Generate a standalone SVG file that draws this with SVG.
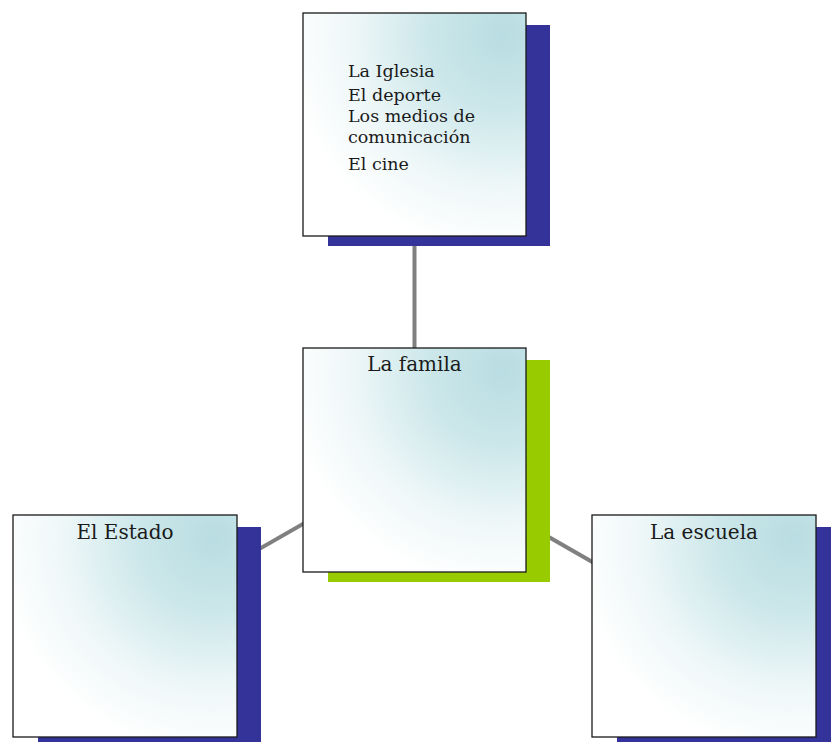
<svg xmlns="http://www.w3.org/2000/svg" width="831" height="742" viewBox="0 0 831 742">
  <style>
    .card { stroke: #1a1a1a; stroke-width: 1.3; fill: url(#cardFill); }
    .shadow-blue { fill: #333399; }
    .shadow-green { fill: #99cc00; }
    .link { stroke: #808080; stroke-width: 4; fill: none; }
    .label { font-family: "DejaVu Serif", "Liberation Serif", serif; fill: #1a1a1a; }
    .list { font-size: 17.5px; }
    .title { font-size: 20px; text-anchor: middle; }
  </style>
  <defs>
    <radialGradient id="cardFill" cx="0.88" cy="0.12" r="0.95" fx="0.9" fy="0.1">
      <stop offset="0" stop-color="#b9dde2"/>
      <stop offset="0.35" stop-color="#cce7ea"/>
      <stop offset="0.7" stop-color="#eef7f8"/>
      <stop offset="1" stop-color="#ffffff"/>
    </radialGradient>
  </defs>
  <rect width="831" height="742" fill="#ffffff"/>

  <!-- connectors between the centres of the cards -->
  <g id="connectors">
    <line class="link" x1="414.5" y1="124.5" x2="414.5" y2="460"/>
    <line class="link" x1="414.5" y1="460" x2="125" y2="626"/>
    <line class="link" x1="414.5" y1="460" x2="704" y2="626"/>
  </g>

  <g id="node-otros">
    <rect class="shadow-blue" x="328" y="25" width="222" height="221"/>
    <rect class="card" x="303" y="13" width="223" height="223"/>
    <text class="label list" x="348" y="77">La Iglesia</text>
    <text class="label list" x="348" y="101">El deporte</text>
    <text class="label list" x="348" y="122">Los medios de</text>
    <text class="label list" x="348" y="143">comunicación</text>
    <text class="label list" x="348" y="170">El cine</text>
  </g>

  <g id="node-familia">
    <rect class="shadow-green" x="328" y="360" width="222" height="222"/>
    <rect class="card" x="303" y="348" width="223" height="224"/>
    <text class="label title" x="414.5" y="371">La famila</text>
  </g>

  <g id="node-estado">
    <rect class="shadow-blue" x="38" y="527" width="223" height="230"/>
    <rect class="card" x="13" y="515" width="224" height="222"/>
    <text class="label title" x="125" y="539">El Estado</text>
  </g>

  <g id="node-escuela">
    <rect class="shadow-blue" x="617" y="527" width="230" height="230"/>
    <rect class="card" x="592" y="515" width="224" height="222"/>
    <text class="label title" x="704" y="539">La escuela</text>
  </g>
</svg>
